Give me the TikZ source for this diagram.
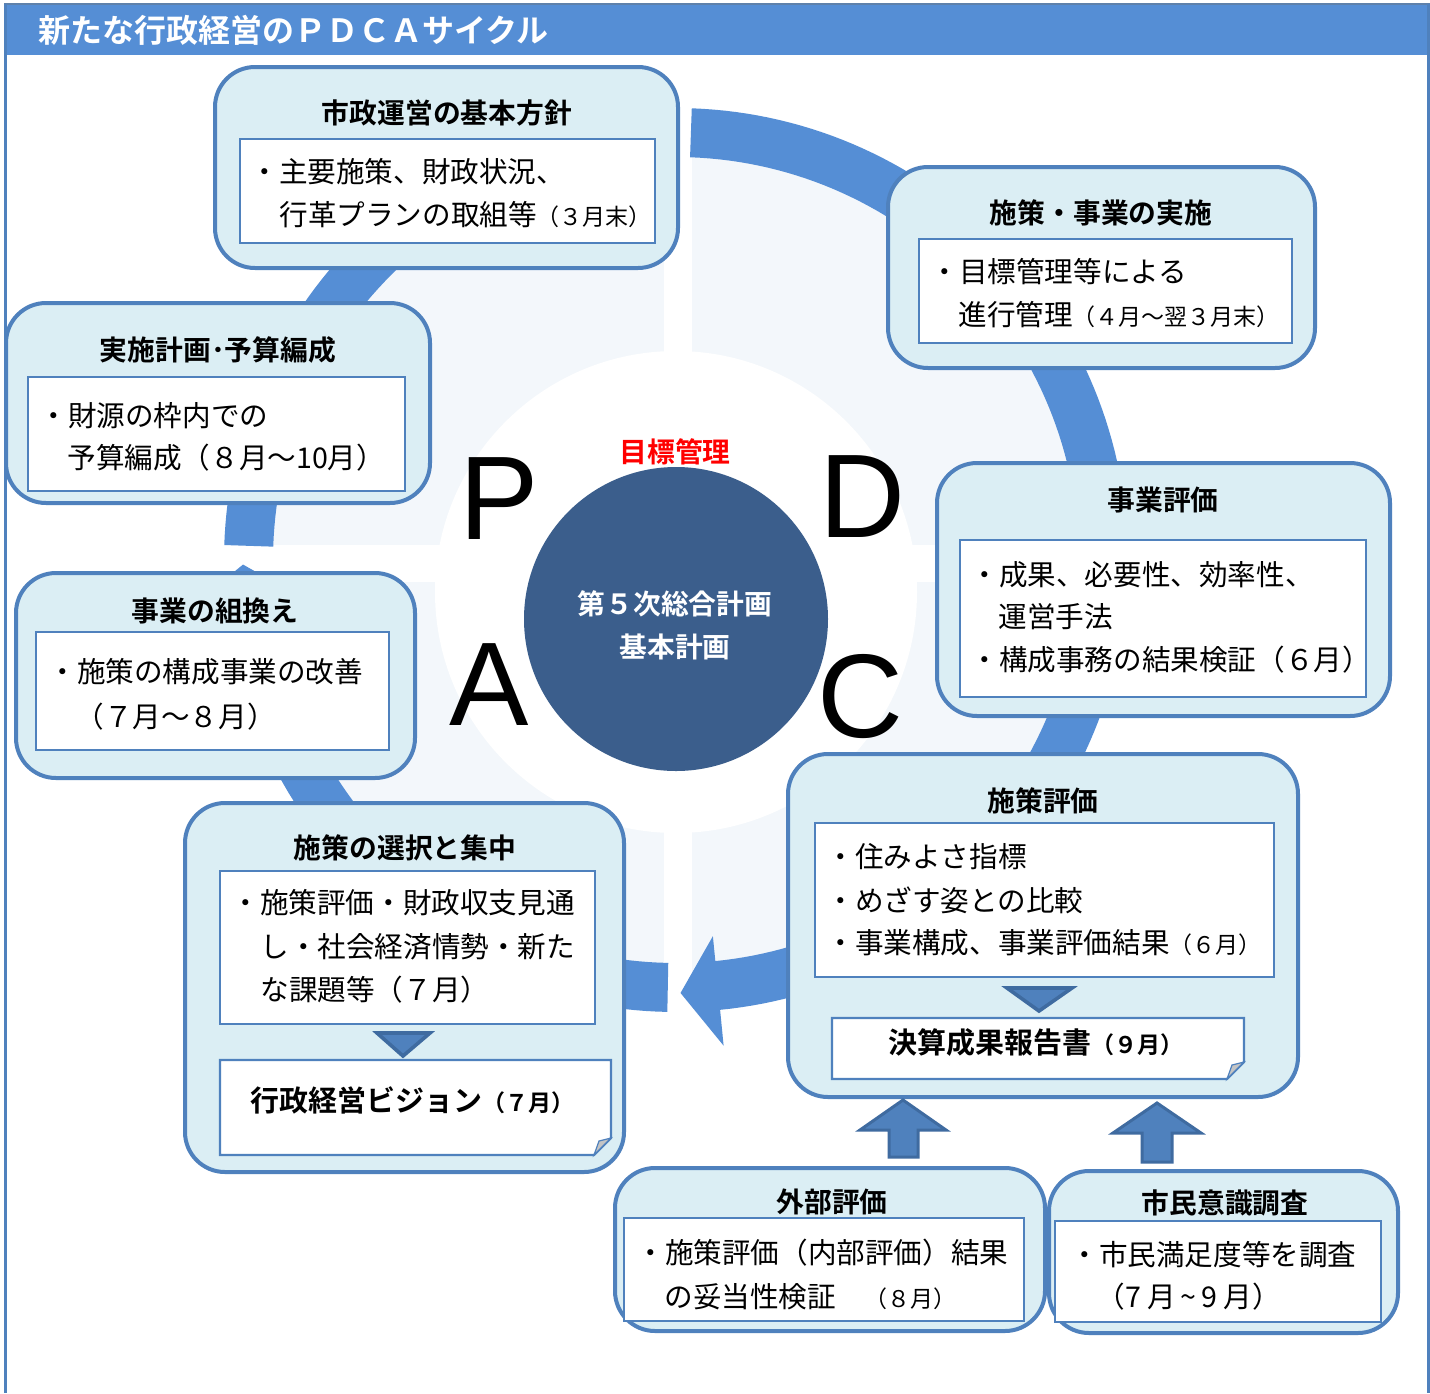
\documentclass[tikz,border=0pt]{standalone}
\usepackage{fontspec}
\setmainfont{Liberation Sans}
\newfontfamily\jp{Noto Sans CJK JP}[BoldFont={Noto Sans CJK JP Bold}]
\usetikzlibrary{fit}
\definecolor{ringblue}{HTML}{558ED5}
\definecolor{barblue}{HTML}{558ED5}
\definecolor{bordblue}{HTML}{4F81BD}
\definecolor{boxfill}{HTML}{DBEEF4}
\definecolor{palebg}{HTML}{F3F7FB}
\definecolor{darkc}{HTML}{3B5E8C}
\definecolor{tridraw}{HTML}{3F6BA0}
\definecolor{foldgray}{HTML}{C4C4C4}
\newcommand\smallpar[1]{{\fontsize{11.5}{14}\selectfont #1}}
\newcommand\ringquad[3]{%
  \fill[ringblue] plot[domain=#1:#2, samples=60] ({676+452*cos(\x)},{560+452*sin(\x)})
   -- ({676+488*cos(#2)},{560+488*sin(#2)})
   -- ({676+433*cos(#3)},{560+433*sin(#3)})
   -- ({676+378*cos(#2)},{560+378*sin(#2)})
   -- plot[domain=#2:#1, samples=60] ({676+403*cos(\x)},{560+403*sin(\x)}) -- cycle;}
\newcommand\docshape[5]{%
  \draw[bordblue, line width=1.2pt, fill=white] (#1,#2) -- (#3,#2) -- (#3,{#4-#5}) -- ({#3-#5},#4) -- (#1,#4) -- cycle;
  \draw[bordblue, line width=0.6pt, fill=foldgray] (#3,{#4-#5}) -- ({#3-#5},#4) -- ({#3-#5+5},{#4-#5+3}) -- cycle;}
\begin{document}
\begin{tikzpicture}[x=0.5pt,y=-0.5pt,
  gbox/.style={draw=bordblue, line width=2pt, fill=boxfill, rounded corners=20pt, inner sep=0pt},
  ibox/.style={draw=bordblue, line width=1.2pt, fill=white, inner sep=0pt},
  ttl/.style={font=\jp\bfseries\fontsize{13.9}{16}\selectfont, inner sep=0pt},
  txt/.style={font=\jp\fontsize{14.3}{17}\selectfont, inner sep=0pt, anchor=west},
  btxt/.style={font=\jp\bfseries\fontsize{14.5}{17}\selectfont, inner sep=0pt, anchor=west},
  pdca/.style={font=\fontsize{59.5}{60}\selectfont, inner sep=0pt},
  tri/.style={fill=bordblue, draw=tridraw, line width=1.8pt, line join=miter},
  uparrow/.style={fill=bordblue, draw=tridraw, line width=1.5pt, line join=miter}]
\useasboundingbox (0,0) rectangle (1430,1393);
\fill[white] (0,0) rectangle (1430,1393);
% background disk and gaps
\fill[palebg] (676,563) circle[radius=410];
\fill[white] (664,130) rectangle (692,1000);
\fill[white] (250,545) rectangle (1100,582);
\fill[white] (676,592) circle[radius=241];
% ring quadrants
\ringquad{3}{84.4}{89.4}
\ringquad{91.1}{174.4}{179.4}
\ringquad{181.9}{264.4}{269.4}
\ringquad{272}{354.4}{359.4}
% center
\node[circle, fill=darkc, minimum size=152pt, inner sep=0pt] (core) at (676,619) {};
\node[font=\jp\bfseries\fontsize{13.9}{16}\selectfont, text=white, inner sep=0pt] (core1) at (675,604) {第５次総合計画};
\node[font=\jp\bfseries\fontsize{13.9}{16}\selectfont, text=white, inner sep=0pt] (core2) at (675,647) {基本計画};
\node[font=\jp\bfseries\fontsize{13.9}{16}\selectfont, text=red, inner sep=0pt] (goal) at (675,452) {目標管理};
\node[pdca] (P) at (499,499) {P};
\node[pdca] (D) at (862,497) {D};
\node[pdca] (A) at (489,685) {A};
\node[pdca] (C) at (860,697) {C};
% box 1
\node[gbox, fit={(215,67) (678,268)}] (b1) {};
\node[ttl] (b1t) at (447,113) {市政運営の基本方針};
\node[ibox, fit={(240,139) (655,243)}] (b1i) {};
\node[txt] (b1a) at (250,172) {・主要施策、財政状況、};
\node[txt] (b1b) at (279,215) {行革プランの取組等\smallpar{（３月末）}};
% box 2
\node[gbox, fit={(888,167) (1315,368)}] (b2) {};
\node[ttl] (b2t) at (1101,213) {施策・事業の実施};
\node[ibox, fit={(919,239) (1292,343)}] (b2i) {};
\node[txt] (b2a) at (930,272) {・目標管理等による};
\node[txt] (b2b) at (958,315) {進行管理\smallpar{（４月～翌３月末）}};
% box 3
\node[gbox, fit={(6,303) (430,503)}] (b3) {};
\node[ttl] (b3t) at (218,350) {実施計画･予算編成};
\node[ibox, fit={(28,377) (405,491)}] (b3i) {};
\node[txt] (b3a) at (39,416) {・財源の枠内での};
\node[txt] (b3b) at (67,458) {予算編成（８月～10月）};
% box 4
\node[gbox, fit={(937,463) (1390,716)}] (b4) {};
\node[ttl] (b4t) at (1163,500) {事業評価};
\node[ibox, fit={(960,540) (1366,697)}] (b4i) {};
\node[txt] (b4a) at (970,575) {・成果、必要性、効率性、};
\node[txt] (b4b) at (998,617) {運営手法};
\node[txt] (b4c) at (970,660) {・構成事務の結果検証（６月）};
% box 5
\node[gbox, fit={(16,573) (415,778)}] (b5) {};
\node[ttl] (b5t) at (215,611) {事業の組換え};
\node[ibox, fit={(36,632) (389,750)}] (b5i) {};
\node[txt] (b5a) at (48,672) {・施策の構成事業の改善};
\node[txt] (b5b) at (75,717) {（７月～８月）};
% box 6
\node[gbox, fit={(185,803) (624,1172)}] (b6) {};
\node[ttl] (b6t) at (405,848) {施策の選択と集中};
\node[ibox, fit={(220,871) (595,1024)}] (b6i) {};
\node[txt] (b6a) at (231,903) {・施策評価・財政収支見通};
\node[txt] (b6b) at (260,947) {し・社会経済情勢・新た};
\node[txt] (b6c) at (260,990) {な課題等（７月）};
\draw[tri] (377,1033) -- (430,1033) -- (403,1056) -- cycle;
\docshape{220}{1060}{611}{1155}{17}
\node[btxt] (b6d) at (250,1100) {行政経営ビジョン\smallpar{（７月）}};
% box 7
\node[gbox, fit={(788,754) (1298,1097)}] (b7) {};
\node[ttl] (b7t) at (1043,801) {施策評価};
\node[ibox, fit={(815,823) (1274,977)}] (b7i) {};
\node[txt] (b7a) at (826,857) {・住みよさ指標};
\node[txt] (b7b) at (826,900) {・めざす姿との比較};
\node[txt] (b7c) at (826,943) {・事業構成、事業評価結果\smallpar{（６月）}};
\draw[tri] (1007,988) -- (1072,988) -- (1039,1011) -- cycle;
\docshape{832}{1018}{1244}{1079}{17}
\node[btxt] (b7d) at (888,1043) {決算成果報告書\smallpar{（９月）}};
% up arrows
\draw[uparrow] (903,1100) -- (946,1130) -- (918,1130) -- (918,1157) -- (889,1157) -- (889,1130) -- (860,1130) -- cycle;
\draw[uparrow] (1157,1103) -- (1201,1133) -- (1172,1133) -- (1172,1162) -- (1142,1162) -- (1142,1133) -- (1113,1133) -- cycle;
% box 8
\node[gbox, fit={(615,1168) (1045,1331)}] (b8) {};
\node[ttl] (b8t) at (832,1202) {外部評価};
\node[ibox, fit={(624,1218) (1024,1321)}] (b8i) {};
\node[txt] (b8a) at (636,1253) {・施策評価（内部評価）結果};
\node[txt] (b8b) at (664,1297) {の妥当性検証　\smallpar{（８月）}};
% box 9
\node[gbox, fit={(1049,1171) (1398,1333)}] (b9) {};
\node[ttl] (b9t) at (1225,1203) {市民意識調査};
\node[ibox, fit={(1055,1221) (1381,1322)}] (b9i) {};
\node[txt] (b9a) at (1070,1255) {・市民満足度等を調査};
\node[txt] (b9b) at (1096,1297) {（7 月\,\textasciitilde\,9 月）};
% frame and title bar
\fill[barblue] (4,4) rectangle (1430,55);
\draw[bordblue!70!gray, line width=0.8pt] (4,4) -- (1430,4);
\draw[bordblue, line width=1.5pt] (5,4) -- (5,1393);
\draw[bordblue, line width=1.5pt] (1428,4) -- (1428,1393);
\node[anchor=west, font=\jp\bfseries\fontsize{16}{18}\selectfont, text=white, inner sep=0pt] (title) at (38,30) {新たな行政経営のＰＤＣＡサイクル};
\end{tikzpicture}
\end{document}
